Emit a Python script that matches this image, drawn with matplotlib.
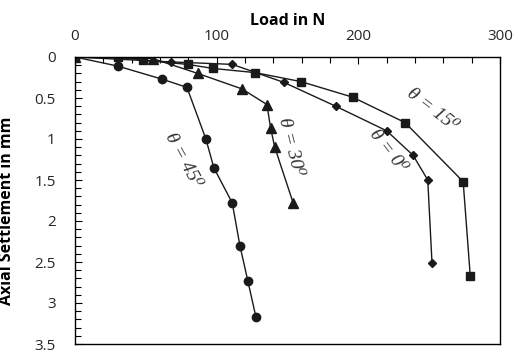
import matplotlib.pyplot as plt
from matplotlib.ticker import MultipleLocator

# Load (N) vs axial settlement (mm) for four inclination angles
load_0 = [0, 68, 111, 147.5, 184, 220, 238.7, 249, 252]
settle_0 = [0, 0.06, 0.09, 0.31, 0.60, 0.90, 1.20, 1.50, 2.51]

load_15 = [0, 30, 48, 79.5, 97.6, 127, 159.5, 196, 233, 274, 279]
settle_15 = [0, 0, 0.04, 0.09, 0.14, 0.19, 0.30, 0.49, 0.80, 1.52, 2.67]

load_30 = [0, 55, 86.6, 118, 135.5, 138, 141, 154]
settle_30 = [0, 0.02, 0.20, 0.39, 0.58, 0.86, 1.10, 1.78]

load_45 = [0, 30, 61.4, 79, 92.4, 98, 111, 116.4, 122, 127.7]
settle_45 = [0, 0.11, 0.27, 0.37, 1.00, 1.35, 1.78, 2.30, 2.73, 3.17]

labels = ['\u03b8 = 0\u2070', '\u03b8 = 15\u2070', '\u03b8 = 30\u2070', '\u03b8 = 45\u2070']
y_ticks = [0, 0.5, 1, 1.5, 2, 2.5, 3, 3.5]
y_ticklabels = ['0', '0.5', '1', '1.5', '2', '2.5', '3', '3.5']

fig = plt.figure(figsize=(5.15, 3.52), dpi=100)
ax = fig.add_axes([75 / 515, 1 - 344 / 352, 425 / 515, 287 / 352])

line_kw = dict(color='#1a1a1a', lw=1.0)
ax.plot(load_45, settle_45, marker='o', ms=6, **line_kw)
ax.plot(load_30, settle_30, marker='^', ms=6.5, **line_kw)
ax.plot(load_15, settle_15, marker='s', ms=6, **line_kw)
ax.plot(load_0, settle_0, marker='D', ms=4, **line_kw)

ax.set_xlim(0, 300)
ax.set_ylim(3.5, 0)
ax.xaxis.set_major_locator(MultipleLocator(100))
ax.xaxis.set_minor_locator(MultipleLocator(20))
ax.yaxis.set_minor_locator(MultipleLocator(0.1))
ax.set_yticks(y_ticks)
ax.set_yticklabels(y_ticklabels)
ax.xaxis.tick_top()
ax.xaxis.set_label_position('top')
ax.tick_params(which='both', direction='in', labelsize=11, colors='black', labelcolor='#262626')
ax.tick_params(which='major', length=5, width=0.8)
ax.tick_params(which='minor', length=4, width=0.8)
ax.tick_params(axis='x', which='both', top=True, bottom=False, pad=9)
ax.tick_params(axis='y', which='both', right=False, pad=14)
for lbl in ax.get_xticklabels() + ax.get_yticklabels():
    lbl.set_fontfamily('Open Sans')
for lbl in ax.get_yticklabels():
    lbl.set_verticalalignment('center_baseline')

ax.set_xlabel('Load in N', fontsize=11.5, fontweight='bold', fontfamily='Open Sans', labelpad=3)
ax.set_ylabel('Axial Settlement in mm', fontsize=11.5, fontweight='bold', fontfamily='Open Sans')
ax.yaxis.set_label_coords(-0.142, 0.465)

for sp in ax.spines.values():
    sp.set_linewidth(1.0)

# curve labels along each line
txt_kw = dict(fontsize=14, fontstyle='italic', family=['Liberation Serif', 'DejaVu Serif'],
              color='#333333', ha='center', va='center')
ax.text(221, 1.15, labels[0], rotation=-52, **txt_kw)
ax.text(252, 0.65, labels[1], rotation=-38, **txt_kw)
ax.text(152, 1.10, labels[2], rotation=-76, **txt_kw)
ax.text(76, 1.26, labels[3], rotation=-62, **txt_kw)

fig.savefig('out.png', dpi=100)
